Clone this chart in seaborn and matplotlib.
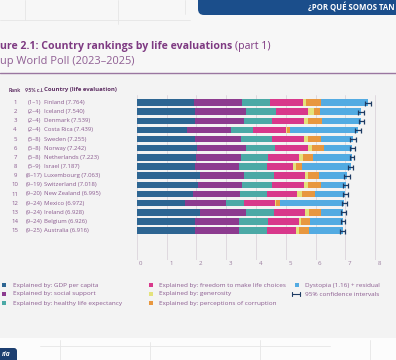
import numpy as np
import pandas as pd
import matplotlib
matplotlib.use("Agg")
import matplotlib.pyplot as plt
from matplotlib.patches import Rectangle, FancyBboxPatch
from matplotlib.transforms import ScaledTranslation
import seaborn as sns

# data
ranks = [1, 2, 3, 4, 5, 6, 7, 8, 9, 10, 11, 12, 13, 14, 15]
ci_ranks = ["(1–1)", "(2–4)", "(2–4)", "(2–4)", "(5–8)", "(5–8)", "(5–8)", "(5–9)",
            "(8–17)", "(9–19)", "(9–20)", "(9–24)", "(9–24)", "(9–24)", "(9–25)"]
countries = ["Finland", "Iceland", "Denmark", "Costa Rica", "Sweden", "Norway", "Netherlands",
             "Israel", "Luxembourg", "Switzerland", "New Zealand", "Mexico", "Ireland",
             "Belgium", "Australia"]
scores = [7.764, 7.540, 7.539, 7.439, 7.255, 7.242, 7.223, 7.187, 7.063, 7.018, 6.995,
          6.972, 6.928, 6.926, 6.916]
gdp = [1.92, 1.95, 1.95, 1.70, 1.95, 2.03, 2.00, 1.95, 2.14, 2.05, 1.89, 1.61, 2.14, 1.94, 1.94]
social = [1.63, 1.71, 1.66, 1.47, 1.55, 1.63, 1.50, 1.49, 1.47, 1.50, 1.56, 1.37, 1.54, 1.50, 1.50]
health = [0.92, 1.02, 0.92, 0.74, 1.03, 0.97, 0.92, 0.92, 1.00, 1.00, 0.91, 0.63, 0.92, 0.98, 0.92]
freedom = [1.11, 1.08, 1.08, 1.09, 1.08, 1.13, 1.01, 0.89, 1.03, 1.06, 1.03, 1.02, 1.06, 1.02, 1.00]
generosity = [0.09, 0.20, 0.13, 0.04, 0.13, 0.12, 0.15, 0.11, 0.11, 0.13, 0.15, 0.04, 0.11, 0.08, 0.10]
corruption = [0.50, 0.19, 0.48, 0.12, 0.46, 0.42, 0.33, 0.19, 0.36, 0.46, 0.44, 0.14, 0.41, 0.31, 0.33]
dystopia = [1.59, 1.39, 1.32, 2.28, 1.06, 0.94, 1.31, 1.64, 0.95, 0.82, 1.02, 2.16, 0.75, 1.10, 1.13]
ci_half = [0.09, 0.10, 0.09, 0.10, 0.09, 0.09, 0.08, 0.08, 0.09, 0.08, 0.08, 0.09, 0.08, 0.08, 0.08]

parts = ["GDP per capita", "social support", "healthy life expectancy",
         "freedom to make life choices", "generosity", "perceptions of corruption",
         "Dystopia (1.16) + residual"]
colors = ["#2d6592", "#8c3b8f", "#4ba9a6", "#d8388b", "#e4e27c", "#e8973f", "#53abe2"]

df = pd.DataFrame({"country": countries, "GDP per capita": gdp, "social support": social,
                   "healthy life expectancy": health, "freedom to make life choices": freedom,
                   "generosity": generosity, "perceptions of corruption": corruption,
                   "Dystopia (1.16) + residual": dystopia})
cum = df[parts].cumsum(axis=1)
cum["country"] = countries

sns.set_style("white")
plt.rcParams["font.family"] = ["Open Sans", "DejaVu Sans"]

W, H = 396, 360
fig = plt.figure(figsize=(W / 100, H / 100), dpi=100)
fig.patch.set_facecolor("#f7f7f7")

# background / decoration layer in pixel coordinates
bg = fig.add_axes([0, 0, 1, 1], zorder=0)
bg.set_xlim(0, W)
bg.set_ylim(H, 0)
bg.axis("off")
bg.add_patch(Rectangle((0, 74), W, 264, color="#f3f3f3", lw=0))
bg.add_patch(Rectangle((0, 338), W, 22, color="#fcfcfc", lw=0))
for x0, x1, y0, y1 in [(25, 25, 0, 20), (118, 118, 0, 24), (185, 185, 0, 14), (0, 190, 20, 20),
                       (60, 60, 340, 360), (150, 150, 342, 360), (260, 260, 340, 360),
                       (370, 370, 340, 360), (40, 330, 346, 346)]:
    bg.plot([x0, x1], [y0, y1], color="#e6e6e6", lw=0.6)
bg.plot([0, W], [73.3, 73.3], color="#9a76a0", lw=1.0)

# header tab
bg.add_patch(FancyBboxPatch((198, -10), 220, 25, boxstyle="round,pad=0,rounding_size=6",
                            color="#1b4e8b", lw=0))
bg.text(308, 7.5, "¿POR QUÉ SOMOS TAN", color="white", fontsize=5.6, fontweight="bold",
        va="center", ha="left")
# logo tab bottom-left
bg.add_patch(FancyBboxPatch((-8, 348), 25, 18, boxstyle="round,pad=0,rounding_size=3",
                            color="#1d3f70", lw=0))
bg.text(2.0, 355, "ría", color="white", fontsize=4.8, fontweight="bold", style="italic",
        va="center", ha="left")

# title
purple = "#7e3a82"
t1 = bg.text(0.5, 46.7, "ure 2.1: Country rankings by life evaluations", color=purple,
             fontsize=7.6, fontweight="bold", va="center", ha="left")
fig.canvas.draw()
bb = t1.get_window_extent()
x_end = bb.x1 * W / fig.bbox.width
bg.text(x_end + 2.5, 46.7, "(part 1)", color=purple, fontsize=7.6, va="center", ha="left")
bg.text(0.5, 61.7, "up World Poll (2023–2025)", color="#8f5e93", fontsize=7.9,
        va="center", ha="left")

# table columns
head_c = "#5d2d62"
row_c = "#8a5a8f"
fs = 4.3
narrow = ["Lato", "DejaVu Sans"]
bg.text(8.5, 90, "Rank", color=head_c, fontsize=3.9, fontweight="bold", va="center",
        family=narrow)
bg.text(25.3, 90, "95% c.i.", color=head_c, fontsize=3.9, fontweight="bold", va="center",
        ha="left", family=narrow)
bg.text(44.3, 90, "Country (life evaluation)", color=head_c, fontsize=fs, fontweight="bold",
        va="center")
row0, step = 102.5, 9.15
for i in range(len(countries)):
    y = row0 + i * step
    bg.text(15, y, str(ranks[i]), color=row_c, fontsize=fs, va="center", ha="center")
    bg.text(34.5, y, ci_ranks[i], color=row_c, fontsize=fs, va="center", ha="center")
    bg.text(44.3, y, f"{countries[i]} ({scores[i]:.3f})", color=row_c, fontsize=fs, va="center")

# chart
px_per_unit = 29.8
x0_px, top_px, bot_px = 136.7, 95, 260
xmax = 8.3
ax = fig.add_axes([x0_px / W, 1 - bot_px / H, xmax * px_per_unit / W, (bot_px - top_px) / H],
                  zorder=1)
ax.patch.set_alpha(0)
for part, col in reversed(list(zip(parts, colors))):
    sns.barplot(data=cum, x=part, y="country", orient="h", color=col, width=0.7,
                saturation=1, errorbar=None, linewidth=0, ax=ax)
ax.errorbar(x=scores, y=np.arange(len(countries)), xerr=ci_half, fmt="none",
            ecolor="#1d3b63", elinewidth=0.9, capsize=1.8, capthick=0.9, zorder=5)

ax.set_xlim(0, xmax)
ax.set_ylim((bot_px - row0) / step, (top_px - row0) / step)
ax.set_xticks(range(9))
ax.set_xticklabels([str(v) for v in range(9)])
ax.set_yticks([])
ax.set_xlabel("")
ax.set_ylabel("")
ax.grid(axis="x", color="#dcd4dc", lw=0.6)
ax.set_axisbelow(True)
for s in ax.spines.values():
    s.set_visible(False)
ax.tick_params(axis="x", length=0, pad=1, labelsize=4.4, labelcolor="#9a7c9e")
for lab in ax.get_xticklabels():
    lab.set_ha("left")
    lab.set_transform(lab.get_transform() + ScaledTranslation(2.5 / 100, 0, fig.dpi_scale_trans))

# legend
lfs = 4.6
leg_rows = [285, 294, 303]
cols_x = [(4, 12.7), (150.7, 159), (297.3, 305)]
for k, (part, col) in enumerate(zip(parts, colors)):
    c, r = divmod(k, 3)
    mx, tx = cols_x[c]
    y = leg_rows[r]
    bg.add_patch(Rectangle((mx - 2, y - 2), 4, 4, color=col, lw=0))
    label = part if k == 6 else "Explained by: " + part
    bg.text(tx, y, label, color=row_c, fontsize=lfs, va="center")
y = leg_rows[1]
bg.plot([291.7, 300], [y, y], color="#1d3b63", lw=0.8)
bg.plot([291.7, 291.7], [y - 2, y + 2], color="#1d3b63", lw=0.8)
bg.plot([300, 300], [y - 2, y + 2], color="#1d3b63", lw=0.8)
bg.text(305, y, "95% confidence intervals", color=row_c, fontsize=lfs, va="center")

fig.savefig("out.png", dpi=100, facecolor=fig.get_facecolor())
